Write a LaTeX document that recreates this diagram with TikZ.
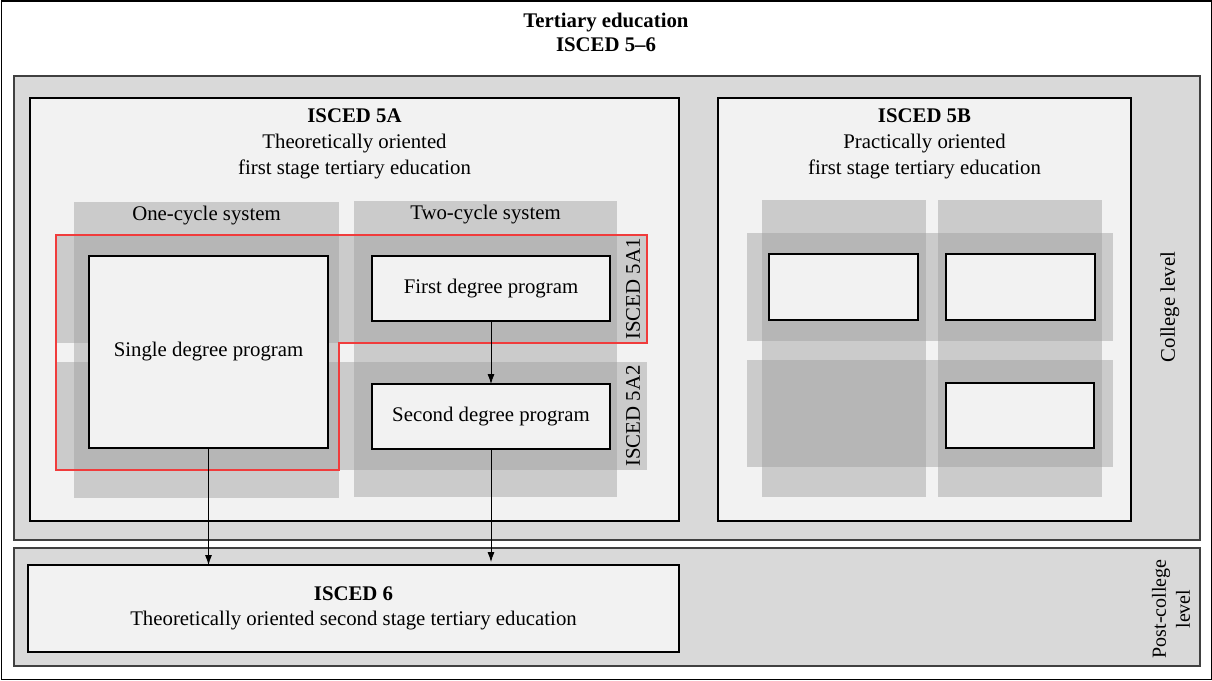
\documentclass[tikz,border=0pt]{standalone}
\usepackage{fontspec}
\setmainfont{Liberation Serif}
\usepackage{xcolor}
\usetikzlibrary{arrows.meta,positioning}

\definecolor{bandgray}{HTML}{D9D9D9}
\definecolor{panelgray}{HTML}{F2F2F2}
\definecolor{shadegray}{HTML}{9D9D9D}
\definecolor{bandline}{HTML}{404040}
\definecolor{redline}{RGB}{240,60,60}

\begin{document}
\begin{tikzpicture}[
    x=1pt, y=-1pt,
    every node/.style={inner sep=0pt, outer sep=0pt},
    txt/.style={font=\fontsize{20.8}{25}\selectfont, align=center},
    band/.style={rectangle, draw=bandline, line width=1.5pt, fill=bandgray, anchor=north west},
    panel/.style={rectangle, draw=black, line width=1.2pt, fill=panelgray, anchor=north west},
    shade/.style={rectangle, fill=shadegray, fill opacity=0.45, anchor=north west},
    prog/.style={rectangle, draw=black, line width=1.5pt, fill=panelgray, anchor=north west, txt},
    arrow/.style={-{Latex[length=10pt,width=7pt]}, line width=0.8pt},
]
    \useasboundingbox (0,0) rectangle (1212,680);
    \node[rectangle, draw=black, line width=1pt, fill=white, anchor=north west,
          minimum width=1210pt, minimum height=678pt] (frame) at (1,1) {};
    \node[txt, font=\fontsize{20.8}{24}\selectfont\bfseries] (title) at (606,32) {Tertiary education\\ISCED 5--6};

    \node[band, minimum width=1186pt, minimum height=464pt] (college) at (14,76) {};
    \node[band, minimum width=1186pt, minimum height=118pt] (postcollege) at (14,548) {};
    \node[txt, rotate=90] (collegelbl) at (1170,307) {College level};
    \node[txt, rotate=90, font=\fontsize{20}{24}\selectfont] (postlbl) at (1171,609) {Post-college\\level};

    % theoretically oriented branch
    \node[panel, minimum width=649pt, minimum height=423pt] (isceda) at (30,98) {};
    \node[txt, font=\fontsize{20.8}{26}\selectfont, below=11pt of isceda.north] (isceda title)
        {\textbf{ISCED 5A}\\Theoretically oriented\\first stage tertiary education};

    \node[shade, minimum width=265pt, minimum height=296pt] (onecycle) at (74,202) {};
    \node[shade, minimum width=263pt, minimum height=296pt] (twocycle) at (354,201) {};
    \node[shade, minimum width=591pt, minimum height=108pt] (rowa) at (56,235) {};
    \node[shade, minimum width=591pt, minimum height=108pt] (rowb) at (56,362) {};
    \node[txt, below=4pt of onecycle.north] {One-cycle system};
    \node[txt, below=4pt of twocycle.north] {Two-cycle system};

    \draw[redline, line width=1.1pt] (rowa.north west) -- (rowa.north east) -- (rowa.south east)
        -- (rowa.south -| onecycle.east) -- (rowb.south -| onecycle.east) -- (rowb.south west) -- cycle;
    \node[txt, rotate=90] (lbla) at (633,289) {ISCED 5A1};
    \node[txt, rotate=90] (lblb) at (633,416) {ISCED 5A2};

    \node[prog, minimum width=239pt, minimum height=192pt] (single) at (89,256) {};
    \node[txt] at (single.center) {Single degree program};
    \node[prog, minimum width=238pt, minimum height=65pt] (first) at (372,256) {};
    \node[txt] at (first.center) {First degree program};
    \node[prog, minimum width=238pt, minimum height=65pt] (second) at (372,384) {};
    \node[txt] at (second.center) {Second degree program};

    % practically oriented branch
    \node[panel, minimum width=413pt, minimum height=423pt] (iscedb) at (718,98) {};
    \node[txt, font=\fontsize{20.8}{26}\selectfont, below=11pt of iscedb.north] (iscedb title)
        {\textbf{ISCED 5B}\\Practically oriented\\first stage tertiary education};

    \node[shade, minimum width=164pt, minimum height=297pt] (colb1) at (762,200) {};
    \node[shade, minimum width=164pt, minimum height=297pt] (colb2) at (938,200) {};
    \node[shade, minimum width=366pt, minimum height=108pt] (rowb1) at (747,233) {};
    \node[shade, minimum width=366pt, minimum height=107pt] (rowb2) at (747,360) {};
    \node[prog, minimum width=149pt, minimum height=66pt] (boxb1) at (769,254) {};
    \node[prog, minimum width=149pt, minimum height=66pt] (boxb2) at (946,254) {};
    \node[prog, minimum width=148pt, minimum height=65pt] (boxb3) at (946,383) {};

    % second stage
    \node[prog, minimum width=651pt, minimum height=87pt] (isced6) at (28,565) {};
    \node[txt] at (isced6.center) {\textbf{ISCED 6}\\Theoretically oriented second stage tertiary education};

    \draw[arrow] (first.south) -- (second.north);
    \draw[arrow] (single.south) -- (single.south |- isced6.north);
    \draw[arrow, shorten >=3pt] (second.south) -- (second.south |- isced6.north);
\end{tikzpicture}
\end{document}
